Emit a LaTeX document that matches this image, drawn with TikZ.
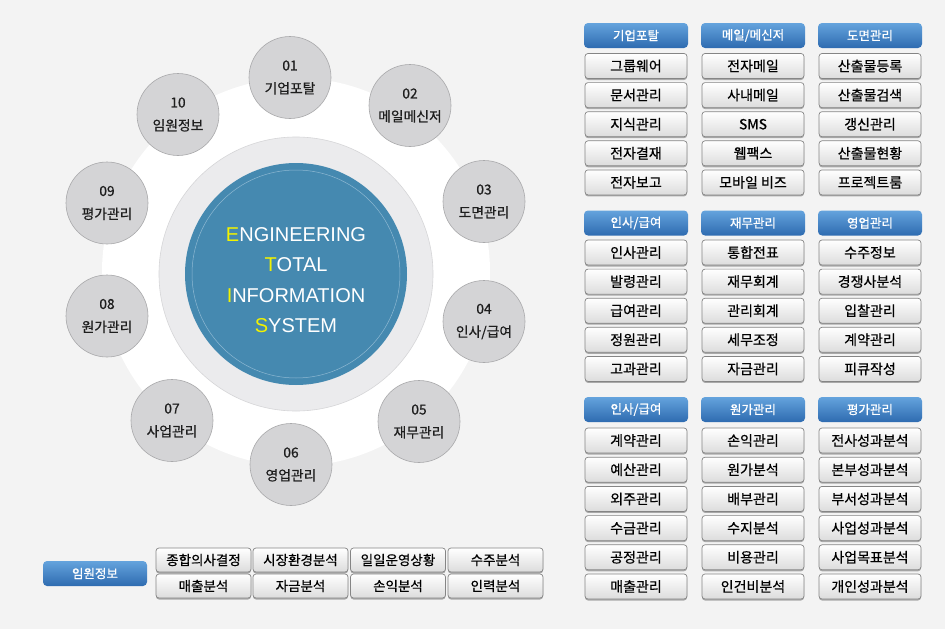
\documentclass[tikz,border=0pt]{standalone}
\usepackage{fontspec}
\setmainfont{Noto Sans CJK KR}
\newfontfamily\krb[FakeBold=0.9]{Noto Sans CJK KR}
\newfontfamily\krm[FakeBold=0.6]{Noto Sans CJK KR}
\newfontfamily\latinsans{Liberation Sans}
\usetikzlibrary{shadows}
\definecolor{bg}{HTML}{F3F3F3}
\definecolor{ringgray}{HTML}{EBEBED}
\definecolor{ringline}{HTML}{D6D6D8}
\definecolor{coreblue}{HTML}{4589B0}
\definecolor{coreline}{HTML}{8DB8D2}
\definecolor{satfill}{HTML}{D4D4D6}
\definecolor{satline}{HTML}{A9A9AB}
\definecolor{txt}{HTML}{1E1E1E}
\definecolor{hdtop}{HTML}{64A3DD}
\definecolor{hdbot}{HTML}{2E6BB0}
\definecolor{btline}{HTML}{858585}
\definecolor{btbot}{HTML}{DCDCDC}
\definecolor{eyellow}{HTML}{F2F200}
\tikzset{
  sat/.style={circle, fill=satfill, draw=satline, line width=0.6pt, minimum size=82pt, inner sep=0pt, align=center, font=\krm\fontsize{13.8}{23}\selectfont, text=txt},
  hdr/.style={rounded corners=4pt, minimum width=104pt, minimum height=25pt, top color=hdtop, bottom color=hdbot, draw=none, text=white, font=\krb\fontsize{12.5}{14}\selectfont, inner sep=0pt},
  btn/.style={rounded corners=3pt, minimum width=102pt, minimum height=25pt, top color=white, bottom color=btbot, draw=btline, line width=0.7pt, text=black, font=\krm\fontsize{14}{16}\selectfont, inner sep=0pt, drop shadow={shadow xshift=0pt, shadow yshift=-1.5pt, opacity=0.3, fill=black}},
  sbtn/.style={btn, minimum width=95pt, minimum height=24pt, font=\krm\fontsize{13.5}{16}\selectfont}
}
\begin{document}
\begin{tikzpicture}[x=1pt, y=-1pt]
\useasboundingbox (0,0) rectangle (945,629);
\fill[bg] (0,0) rectangle (945,629);
% central disks
\node[circle, fill=white, minimum size=388pt, inner sep=0pt] (whitedisk) at (296,272) {};
\node[circle, fill=ringgray, draw=ringline, line width=0.6pt, minimum size=274pt, inner sep=0pt] (ring) at (296,274) {};
\node[circle, fill=coreblue, minimum size=222pt, inner sep=0pt] (core) at (296,274) {};
\node[circle, draw=coreline, line width=0.5pt, minimum size=208pt, inner sep=0pt] (coreline) at (296,274) {};
\node[text=white, align=center, font=\latinsans\fontsize{20}{30.5}\selectfont] (title) at (296,280)
  {\textcolor{eyellow}{E}NGINEERING\\\textcolor{eyellow}{T}OTAL\\\textcolor{eyellow}{I}NFORMATION\\\textcolor{eyellow}{S}YSTEM};
% satellites
\node[sat] (s01) at (290,77.5) {01\\기업포탈};
\node[sat] (s02) at (410,105.5) {02\\메일메신저};
\node[sat] (s03) at (484,201.5) {03\\도면관리};
\node[sat] (s04) at (484,321.5) {04\\인사/급여};
\node[sat] (s05) at (419,421.5) {05\\재무관리};
\node[sat] (s06) at (291,464.5) {06\\영업관리};
\node[sat] (s07) at (172,420.5) {07\\사업관리};
\node[sat] (s08) at (107,316) {08\\원가관리};
\node[sat] (s09) at (107,203) {09\\평가관리};
\node[sat] (s10) at (178,114.5) {10\\임원정보};
% right grid, section 1
\node[hdr] (h11) at (636,35.5) {기업포탈};
\node[hdr] (h12) at (753,35.5) {메일/메신저};
\node[hdr] (h13) at (870,35.5) {도면관리};
\foreach \t [count=\i] in {그룹웨어,문서관리,지식관리,전자결재,전자보고}
  \node[btn] (a1b\i) at (636,{66+(\i-1)*29.1}) {\t};
\foreach \t [count=\i] in {전자메일,사내메일,SMS,웹팩스,모바일 비즈}
  \node[btn] (a2b\i) at (753,{66+(\i-1)*29.1}) {\t};
\foreach \t [count=\i] in {산출물등록,산출물검색,갱신관리,산출물현황,프로젝트룸}
  \node[btn] (a3b\i) at (870,{66+(\i-1)*29.1}) {\t};
% section 2
\node[hdr] (h21) at (636,223) {인사/급여};
\node[hdr] (h22) at (753,223) {재무관리};
\node[hdr] (h23) at (870,223) {영업관리};
\foreach \t [count=\i] in {인사관리,발령관리,급여관리,정원관리,고과관리}
  \node[btn] (b1b\i) at (636,{252.5+(\i-1)*29.1}) {\t};
\foreach \t [count=\i] in {통합전표,재무회계,관리회계,세무조정,자금관리}
  \node[btn] (b2b\i) at (753,{252.5+(\i-1)*29.1}) {\t};
\foreach \t [count=\i] in {수주정보,경쟁사분석,입찰관리,계약관리,피큐작성}
  \node[btn] (b3b\i) at (870,{252.5+(\i-1)*29.1}) {\t};
% section 3
\node[hdr] (h31) at (636,409.5) {인사/급여};
\node[hdr] (h32) at (753,409.5) {원가관리};
\node[hdr] (h33) at (870,409.5) {평가관리};
\foreach \t [count=\i] in {계약관리,예산관리,외주관리,수금관리,공정관리,매출관리}
  \node[btn] (c1b\i) at (636,{440.5+(\i-1)*29.2}) {\t};
\foreach \t [count=\i] in {손익관리,원가분석,배부관리,수지분석,비용관리,인건비분석}
  \node[btn] (c2b\i) at (753,{440.5+(\i-1)*29.2}) {\t};
\foreach \t [count=\i] in {전사성과분석,본부성과분석,부서성과분석,사업성과분석,사업목표분석,개인성과분석}
  \node[btn] (c3b\i) at (870,{440.5+(\i-1)*29.2}) {\t};
% bottom-left
\node[hdr] (h40) at (95,573.5) {임원정보};
\node[sbtn] (d11) at (203.5,560) {종합의사결정};
\node[sbtn] (d12) at (300.5,560) {시장환경분석};
\node[sbtn] (d13) at (398,560) {일일운영상황};
\node[sbtn] (d14) at (495.5,560) {수주분석};
\node[sbtn] (d21) at (203.5,586) {매출분석};
\node[sbtn] (d22) at (300.5,586) {자금분석};
\node[sbtn] (d23) at (398,586) {손익분석};
\node[sbtn] (d24) at (495.5,586) {인력분석};
\end{tikzpicture}
\end{document}
